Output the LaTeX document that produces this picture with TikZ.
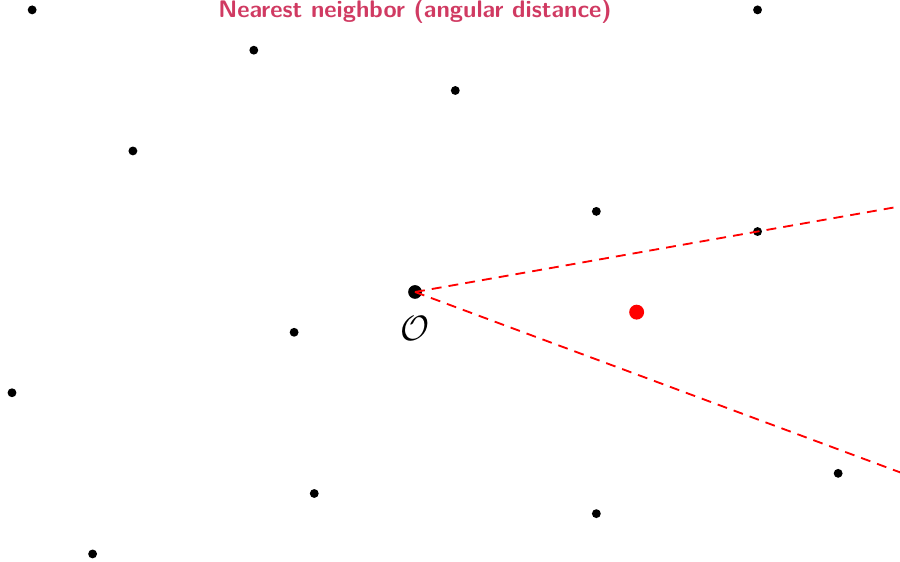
\documentclass[tikz,border=0pt]{standalone}
\usepackage{amsmath, amsfonts, amssymb}
\usepackage{tikz}
\usetikzlibrary{calc}
\definecolor{titlered}{RGB}{208,58,98}

\begin{document}
\begin{tikzpicture}[x=0.5cm, y=0.5cm]
        % Frame
        \useasboundingbox (-20.596,-13.399) rectangle (24.069,14.491);
        \clip (-20.596,-13.399) rectangle (24.069,14.491);

        % Title
        \node[text=titlered, font=\sffamily\bfseries\fontsize{16.9}{18}\selectfont, anchor=base] (title) at (0,13.62) {Nearest neighbor (angular distance)};

        % Data points
        \foreach \px/\py [count=\i] in {-19/14, -8/12, 2/10, 17/14, -14/7, 9/4, 17/3, -6/-2, -20/-5, -5/-10, 9/-11, -16/-13, 21/-9}
            \fill (\px,\py) circle (0.22) coordinate (p\i);

        % Origin and query point
        \coordinate (O) at (0,0);
        \coordinate (Q) at (11,-1);
        \fill (O) circle (0.34);
        \node[font=\fontsize{36}{36}\selectfont] (Olabel) at (0,-1.8) {$\mathcal{O}$};

        % Cone through nearest neighbor (angular)
        \coordinate (E1) at ($(O)+(10.008:30)$);
        \coordinate (E2) at ($(O)+(-20.396:30)$);
        \draw[red, line width=1.3pt, dash pattern=on 7pt off 5pt] (O) -- (E1);
        \draw[red, line width=1.3pt, dash pattern=on 7pt off 5pt] (O) -- (E2);
        \fill[red] (Q) circle (0.37);
    \end{tikzpicture}
\end{document}
